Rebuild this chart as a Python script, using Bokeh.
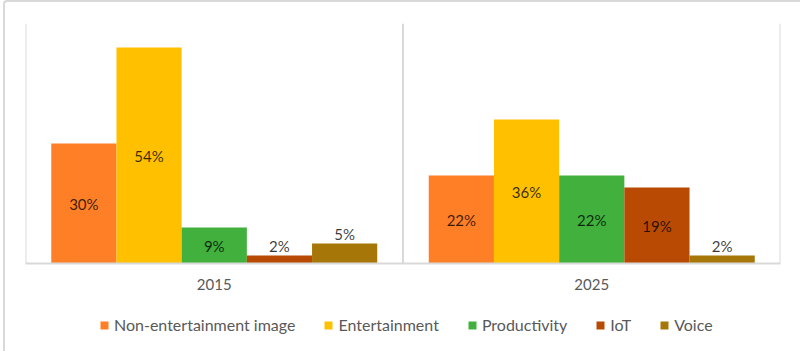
from bokeh.plotting import figure
from bokeh.models import ColumnDataSource, FactorRange, Range1d, Span, Legend
from bokeh.layouts import column
from bokeh.transform import dodge
from bokeh.core.properties import value
from bokeh.embed import file_html
from bokeh.resources import INLINE

years = ["2015", "2025"]
series = ["Non-entertainment image", "Entertainment", "Productivity", "IoT", "Voice"]
colors = ["#FF7F27", "#FFC000", "#41B03C", "#B84A04", "#A67608"]
values_2015 = [30, 54, 9, 2, 5]
values_2025 = [22, 36, 22, 19, 2]

FONT = "Lato"
W = 0.1727  # bar width in category units

p = figure(width=795, height=290, x_range=FactorRange(*years, range_padding=0),
           y_range=Range1d(0, 60), output_backend="svg", toolbar_location=None,
           min_border_left=20, min_border_right=20, min_border_top=21, min_border_bottom=28)
p.outline_line_color = None
p.xgrid.visible = False
p.ygrid.visible = False
p.yaxis.visible = False
p.background_fill_color = "white"
p.border_fill_color = "white"

# legend strip below the chart (its bars are outside its visible y range)
lg = figure(width=795, height=59, x_range=p.x_range, y_range=Range1d(100, 101),
            output_backend="svg", toolbar_location=None, x_axis_location=None,
            y_axis_location=None, min_border=0)
lg.outline_line_color = None
lg.xgrid.visible = False
lg.ygrid.visible = False

legend_items = []
for j, name in enumerate(series):
    vals = [values_2015[j], values_2025[j]]
    off = (j - 2) * W
    src = ColumnDataSource(dict(year=years, val=vals))
    p.vbar(x=dodge("year", off, range=p.x_range), top="val", width=W,
           source=src, fill_color=colors[j], line_color=None)
    lr = lg.vbar(x=dodge("year", off, range=p.x_range), top="val", width=W,
                 source=src, fill_color=colors[j], line_color=None)
    legend_items.append((name, [lr]))

    inside = [(y, v) for y, v in zip(years, vals) if v >= 9]
    above = [(y, v) for y, v in zip(years, vals) if v < 9]
    s_in = ColumnDataSource(dict(year=[a for a, _ in inside], y=[b / 2 for _, b in inside],
                                 t=[f"{b}%" for _, b in inside]))
    s_ab = ColumnDataSource(dict(year=[a for a, _ in above], y=[b for _, b in above],
                                 t=[f"{b}%" for _, b in above]))
    p.text(x=dodge("year", off, range=p.x_range), y="y", text="t", source=s_in,
           text_align="center", text_baseline="middle", text_font=value(FONT),
           text_font_size="15px", text_color="black", text_alpha=0.78)
    p.text(x=dodge("year", off, range=p.x_range), y="y", text="t", source=s_ab,
           text_align="center", text_baseline="bottom", text_font=value(FONT),
           text_font_size="15px", text_color="black", text_alpha=0.78, y_offset=-1)

for loc in [0, 1, 2]:
    p.add_layout(Span(location=loc, dimension="height", line_color="#d9d9d9", line_width=2))

ax = p.xaxis[0]
ax.axis_line_color = "#d9d9d9"
ax.axis_line_width = 2
ax.major_tick_line_color = None
ax.minor_tick_line_color = None
ax.major_tick_out = 0
ax.major_tick_in = 0
ax.major_label_standoff = 15
ax.major_label_text_font = FONT
ax.major_label_text_font_size = "15px"
ax.major_label_text_color = "#595959"

legend = Legend(items=legend_items, orientation="horizontal", location=(74, 17),
                border_line_color=None, background_fill_alpha=0,
                label_text_font=FONT, label_text_font_size="16px", label_text_color="#595959",
                glyph_width=10, glyph_height=10, label_standoff=5, spacing=28,
                padding=2, margin=0, label_height=16)
lg.add_layout(legend, "center")

layout = column(p, lg, spacing=0)
layout.styles = {"border-top": "2px solid #d9d9d9", "border-left": "2px solid #d9d9d9",
                 "margin-left": "3px", "border-top-left-radius": "4px"}
open("out.html", "w").write(file_html(layout, INLINE))
